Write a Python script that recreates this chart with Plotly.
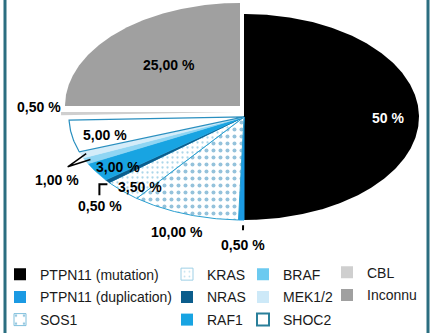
import numpy as np
import plotly.graph_objects as go

# ---------------- data ----------------
categories = ["PTPN11 (mutation)", "PTPN11 (duplication)", "SOS1", "KRAS", "NRAS",
              "RAF1", "BRAF", "MEK1/2", "SHOC2", "CBL", "Inconnu"]
values = [50, 0.5, 10, 3.5, 0.5, 3, 1, 1, 5, 0.5, 25]
value_labels = ["50 %", "0,50 %", "10,00 %", "3,50 %", "0,50 %", "3,00 %",
                "1,00 %", None, "5,00 %", "0,50 %", "25,00 %"]
legend_columns = [["PTPN11 (mutation)", "PTPN11 (duplication)", "SOS1"],
                  ["KRAS", "NRAS", "RAF1"],
                  ["BRAF", "MEK1/2", "SHOC2"],
                  ["CBL", "Inconnu"]]

# ---------------- styles ----------------
TEAL = "#2a9fd0"
style = {
    "PTPN11 (mutation)":    dict(fill="#000000", line=None, lw=0, pattern=None),
    "PTPN11 (duplication)": dict(fill="#1b9ae3", line="#1b9ae3", lw=1, pattern=None),
    "SOS1":   dict(fill="#ffffff", line=TEAL, lw=1, pattern=dict(shape=".", size=7, solidity=0.26, fgcolor="#2a86b8", bgcolor="#ffffff")),
    "KRAS":   dict(fill="#ffffff", line=TEAL, lw=1, pattern=dict(shape=".", size=5, solidity=0.16, fgcolor="#5aaed3", bgcolor="#ffffff")),
    "NRAS":   dict(fill="#0b5d8c", line="#0b5d8c", lw=0.5, pattern=None),
    "RAF1":   dict(fill="#18a4e2", line="#18a4e2", lw=0.5, pattern=None),
    "BRAF":   dict(fill="#8fd5f3", line="#8fd5f3", lw=0.5, pattern=None),
    "MEK1/2": dict(fill="#d4ecf9", line="#d4ecf9", lw=0.5, pattern=None),
    "SHOC2":  dict(fill="#ffffff", line="#2a8fbf", lw=1.2, pattern=None),
    "CBL":    dict(fill="#cfcfcf", line=None, lw=0, pattern=None),
    "Inconnu": dict(fill="#a0a0a0", line=None, lw=0, pattern=None),
}
legend_icon = {
    "PTPN11 (mutation)": dict(color="#000000", line="#000000", lw=0, pattern=None),
    "PTPN11 (duplication)": dict(color="#1b9ae3", line="#1b9ae3", lw=0, pattern=None),
    "SOS1": dict(color="#ffffff", line="#7fbfdc", lw=1, pattern=dict(shape=".", size=12, solidity=0.08, fgcolor="#2d8fbf", bgcolor="#ffffff")),
    "KRAS": dict(color="#ffffff", line="#9fd0e6", lw=1, pattern=dict(shape=".", size=6, solidity=0.1, fgcolor="#7fbfdc", bgcolor="#ffffff")),
    "NRAS": dict(color="#0b5d8c", line="#0b5d8c", lw=0, pattern=None),
    "RAF1": dict(color="#18a4e2", line="#18a4e2", lw=0, pattern=None),
    "BRAF": dict(color="#6ccaf0", line="#6ccaf0", lw=0, pattern=None),
    "MEK1/2": dict(color="#cde9f8", line="#cde9f8", lw=0, pattern=None),
    "SHOC2": dict(color="#ffffff", line="#2a7f9a", lw=2, pattern=None),
    "CBL": dict(color="#cfcfcf", line="#cfcfcf", lw=0, pattern=None),
    "Inconnu": dict(color="#a0a0a0", line="#a0a0a0", lw=0, pattern=None),
}
# exploded offsets (px) and label placement (radius factor, nudge)
explode = {"CBL": (-8, -5), "Inconnu": (-4, -11)}
label_place = {
    "PTPN11 (mutation)": (0.83, -1, 1, "#ffffff"),
    "Inconnu": (0.57, 0, 1, "#000000"),
    "SHOC2": (0.82, 2, 2, "#000000"),
    "RAF1": (0.87, 2.5, 2.5, "#000000"),
    "KRAS": (0.9, 5.5, 3.5, "#000000"),
    "SOS1": (1.17, 2, 1.5, "#000000"),
    "PTPN11 (duplication)": (1.23, 2, 1, "#000000"),
    "NRAS": (1.0, -7, 25, "#000000"),
    "BRAF": (1.0, -29, 19, "#000000"),
    "CBL": (1.0, -22, -6.5, "#000000"),
}

W, H = 433, 336
CX, CY, RX, RY = 244, 118, 175, 104
FONT = "Liberation Sans, Arial, sans-serif"


def pt(deg, r=1.0, off=(0, 0)):
    t = np.radians(deg)
    return CX + off[0] + r * RX * np.sin(t), CY + off[1] - r * RY * np.cos(t)


fig = go.Figure()
cum = np.concatenate([[0], np.cumsum(values)]) / np.sum(values) * 360
mids = {}
for i, cat in enumerate(categories):
    a0, a1 = cum[i], cum[i + 1]
    off = explode.get(cat, (0, 0))
    ts = np.linspace(a0, a1, max(4, int((a1 - a0) * 2)))
    xs, ys = pt(ts, 1.0, off)
    cx0, cy0 = CX + off[0], CY + off[1]
    xs = np.concatenate([[cx0], xs, [cx0]])
    ys = np.concatenate([[cy0], ys, [cy0]])
    s = style[cat]
    kw = dict(x=xs, y=ys, mode="lines", fill="toself", fillcolor=s["fill"],
              line=dict(color=s["line"] or s["fill"], width=s["lw"]),
              hoverinfo="skip", showlegend=False)
    if s["pattern"]:
        kw["fillpattern"] = s["pattern"]
    fig.add_trace(go.Scatter(**kw))
    mids[cat] = ((a0 + a1) / 2, off)

# legend: one single-item legend per entry, laid out in columns
legend_x_text = [40, 207, 283, 367]
legend_row_y = [[277, 300, 323], [277, 300, 323], [277, 300, 323], [275, 298]]
layout_legends = {}
n = 0
for ci, col in enumerate(legend_columns):
    for ri, cat in enumerate(col):
        n += 1
        lname = "legend" if n == 1 else f"legend{n}"
        ic = legend_icon[cat]
        marker = dict(color=ic["color"], line=dict(color=ic["line"], width=ic["lw"]))
        if ic["pattern"]:
            marker["pattern"] = ic["pattern"]
        fig.add_trace(go.Bar(x=[None], y=[None], name=cat, marker=marker,
                             legend=lname, showlegend=True))
        layout_legends[lname] = dict(
            x=(legend_x_text[ci] - 40) / W, y=1 - legend_row_y[ci][ri] / H,
            xanchor="left", yanchor="middle", orientation="v",
            bgcolor="rgba(0,0,0,0)", borderwidth=0,
            font=dict(family=FONT, size=14, color="#1a1a1a"),
            itemclick=False, itemdoubleclick=False)

# value labels
annotations = []
for cat, lab in zip(categories, value_labels):
    if lab is None:
        continue
    r, dx, dy, color = label_place[cat]
    mid, off = mids[cat]
    x, y = pt(mid, r, off)
    annotations.append(dict(x=x + dx, y=y + dy, xref="x", yref="y", text=f"<b>{lab}</b>",
                            showarrow=False, font=dict(family=FONT, size=14, color=color)))

shapes = []
LINE = dict(color="#000000", width=2)
# tick for duplication
m, off = mids["PTPN11 (duplication)"]
p1 = pt(m, 1.05); p2 = pt(m, 1.10)
shapes.append(dict(type="line", x0=p1[0] + 2, y0=p1[1], x1=p2[0] + 2, y1=p2[1], xref="x", yref="y", line=LINE))
# bracket for NRAS
m, off = mids["NRAS"]
p = pt(m, 1.0)
shapes.append(dict(type="path", xref="x", yref="y", line=LINE,
                   path=f"M{p[0]:.1f},{p[1] + 3:.1f} L{p[0] - 8:.1f},{p[1] + 3:.1f} L{p[0] - 8:.1f},{p[1] + 14:.1f}"))
# V pointer for BRAF / MEK1/2
pb = pt(mids["BRAF"][0], 0.97)
pm = pt(mids["MEK1/2"][0], 0.97)
apex = pt(mids["BRAF"][0], 1.0)
ax_, ay_ = apex[0] - 18, apex[1] + 6
shapes.append(dict(type="path", xref="x", yref="y", line=dict(color="#000000", width=1.5),
                   path=f"M{pm[0]:.1f},{pm[1]:.1f} L{ax_:.1f},{ay_:.1f} L{pb[0]:.1f},{pb[1]:.1f}"))
# frame (left / right)
for xp in (5, 428):
    shapes.append(dict(type="line", xref="x", yref="paper", x0=xp, x1=xp, y0=0, y1=1,
                       line=dict(color="#2b6e80", width=3)))

fig.update_layout(
    width=W, height=H, margin=dict(l=0, r=0, t=0, b=0),
    paper_bgcolor="#ffffff", plot_bgcolor="#ffffff",
    xaxis=dict(range=[0, W], visible=False, fixedrange=True, domain=[0, 1]),
    yaxis=dict(range=[H, 0], visible=False, fixedrange=True, domain=[0, 1]),
    annotations=annotations, shapes=shapes, showlegend=True,
    **layout_legends,
)
fig.write_html("out.html")
